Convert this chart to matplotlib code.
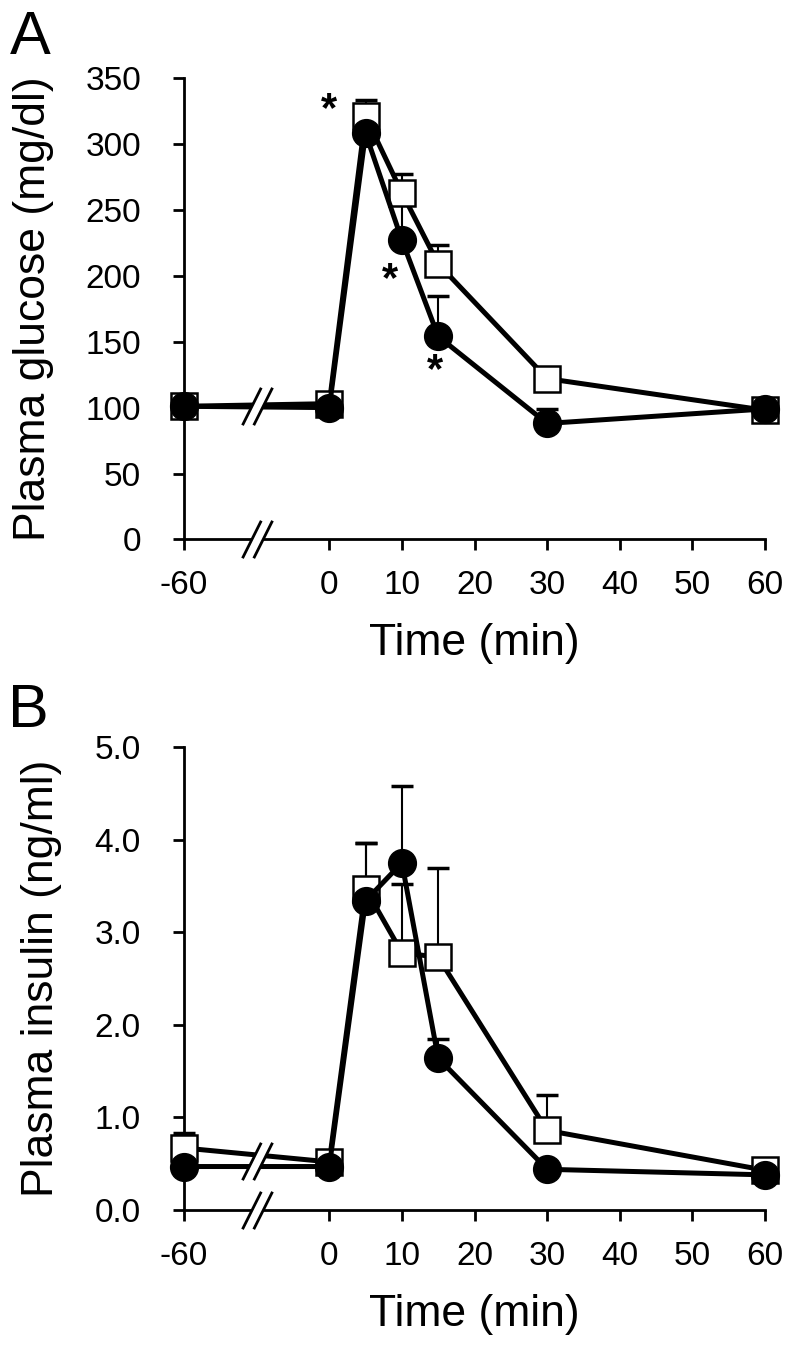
import numpy as np
import matplotlib
matplotlib.use('Agg')
import matplotlib.pyplot as plt
from matplotlib.path import Path

plt.rcParams['font.family'] = ['Liberation Sans', 'DejaVu Sans']

# time points (min); -60 is drawn left of the axis break
times = [-60, 0, 5, 10, 15, 30, 60]
tick_labels = ['-60', '0', '10', '20', '30', '40', '50', '60']

# plasma glucose (mg/dl)
glu_filled = [101, 100, 308, 227, 154, 88, 99]
glu_filled_err = [3, 3, 8, 35, 31, 11, 4]
glu_open = [101, 103, 321, 263, 209, 122, 98]
glu_open_err = [3, 4, 12, 14, 14, 5, 4]

# plasma insulin (ng/ml)
ins_filled = [0.47, 0.47, 3.34, 3.75, 1.64, 0.44, 0.38]
ins_filled_err = [0.05, 0.05, 0.62, 0.83, 0.21, 0.05, 0.05]
ins_open = [0.67, 0.52, 3.47, 2.78, 2.73, 0.86, 0.43]
ins_open_err = [0.16, 0.05, 0.49, 0.74, 0.96, 0.38, 0.05]


def xpos(t):
    # -60 sits two grid steps left of 0
    return [-20 if v == -60 else v for v in t]


# slash marks for the axis break
band = Path([(-0.4, -0.5), (0.1, 0.5), (0.4, 0.5), (-0.1, -0.5), (-0.4, -0.5)],
            [Path.MOVETO, Path.LINETO, Path.LINETO, Path.LINETO, Path.CLOSEPOLY])
slashes = Path([(-0.4, -0.5), (0.1, 0.5), (-0.1, -0.5), (0.4, 0.5)],
               [Path.MOVETO, Path.LINETO, Path.MOVETO, Path.LINETO])


def brk(ax, x, y, ms=27):
    ax.plot([x], [y], marker=band, ms=ms, mfc='white', mec='white', mew=0,
            ls='none', clip_on=False, zorder=6)
    ax.plot([x], [y], marker=slashes, ms=ms, mec='black', mew=2,
            ls='none', clip_on=False, zorder=7)


def panel(ax, filled, ferr, opened, oerr, ylim, yticks, yfmt, ylabel, brk_y, ylab_x):
    x = xpos(times)
    z = np.zeros(len(x))
    ax.errorbar(x, filled, yerr=[z, ferr], fmt='none', ecolor='black',
                elinewidth=1.5, capsize=8, capthick=2.5, zorder=2, clip_on=False)
    ax.errorbar(x, opened, yerr=[z, oerr], fmt='none', ecolor='black',
                elinewidth=1.5, capsize=8, capthick=2.5, zorder=2, clip_on=False)
    ax.plot(x, opened, color='black', lw=3.6, marker='s', ms=19, mfc='white',
            mec='black', mew=1.8, zorder=3, clip_on=False)
    ax.plot(x, filled, color='black', lw=3.6, marker='o', ms=20, mfc='black',
            mec='black', zorder=4, clip_on=False)

    ax.set_xlim(-20, 60)
    ax.set_ylim(*ylim)
    ax.set_xticks([-20, 0, 10, 20, 30, 40, 50, 60])
    ax.set_xticklabels(tick_labels)
    ax.set_yticks(yticks)
    ax.set_yticklabels([yfmt.format(v) for v in yticks])
    ax.spines['top'].set_visible(False)
    ax.spines['right'].set_visible(False)
    for s in ['left', 'bottom']:
        ax.spines[s].set_linewidth(2)
    ax.tick_params(direction='out', length=8, width=2, labelsize=24)
    ax.tick_params(axis='y', pad=23)
    ax.tick_params(axis='x', pad=14)
    ax.set_xlabel('Time (min)', fontsize=32)
    ax.xaxis.set_label_coords(0.5, -0.182)
    ax.set_ylabel(ylabel, fontsize=32)
    ax.yaxis.set_label_coords(ylab_x, 0.5)

    brk(ax, -10, brk_y)
    brk(ax, -10, ylim[0])


fig = plt.figure(figsize=(7.87, 13.49), dpi=100)
axA = fig.add_axes([0.2338, 0.6001, 0.7383, 0.3421])
axB = fig.add_axes([0.2338, 0.1030, 0.7383, 0.3432])

panel(axA, glu_filled, glu_filled_err, glu_open, glu_open_err,
      (0, 350), list(range(0, 351, 50)), '{:d}', 'Plasma glucose (mg/dl)', 101, -0.224)
panel(axB, ins_filled, ins_filled_err, ins_open, ins_open_err,
      (0, 5), [0, 1, 2, 3, 4, 5], '{:.1f}', 'Plasma insulin (ng/ml)', 0.53, -0.21)

# significance stars
stars = [(0, 326), (8.3, 197), (14.5, 128)]
for sx, sy in stars:
    axA.text(sx, sy, '*', fontsize=30, fontweight='bold', ha='center', va='center')

fig.text(0.013, 1 - 54 / 1349, 'A', fontsize=44, va='baseline', ha='left')
fig.text(0.010, 1 - 727 / 1349, 'B', fontsize=44, va='baseline', ha='left')

fig.savefig('out.png', dpi=100)
